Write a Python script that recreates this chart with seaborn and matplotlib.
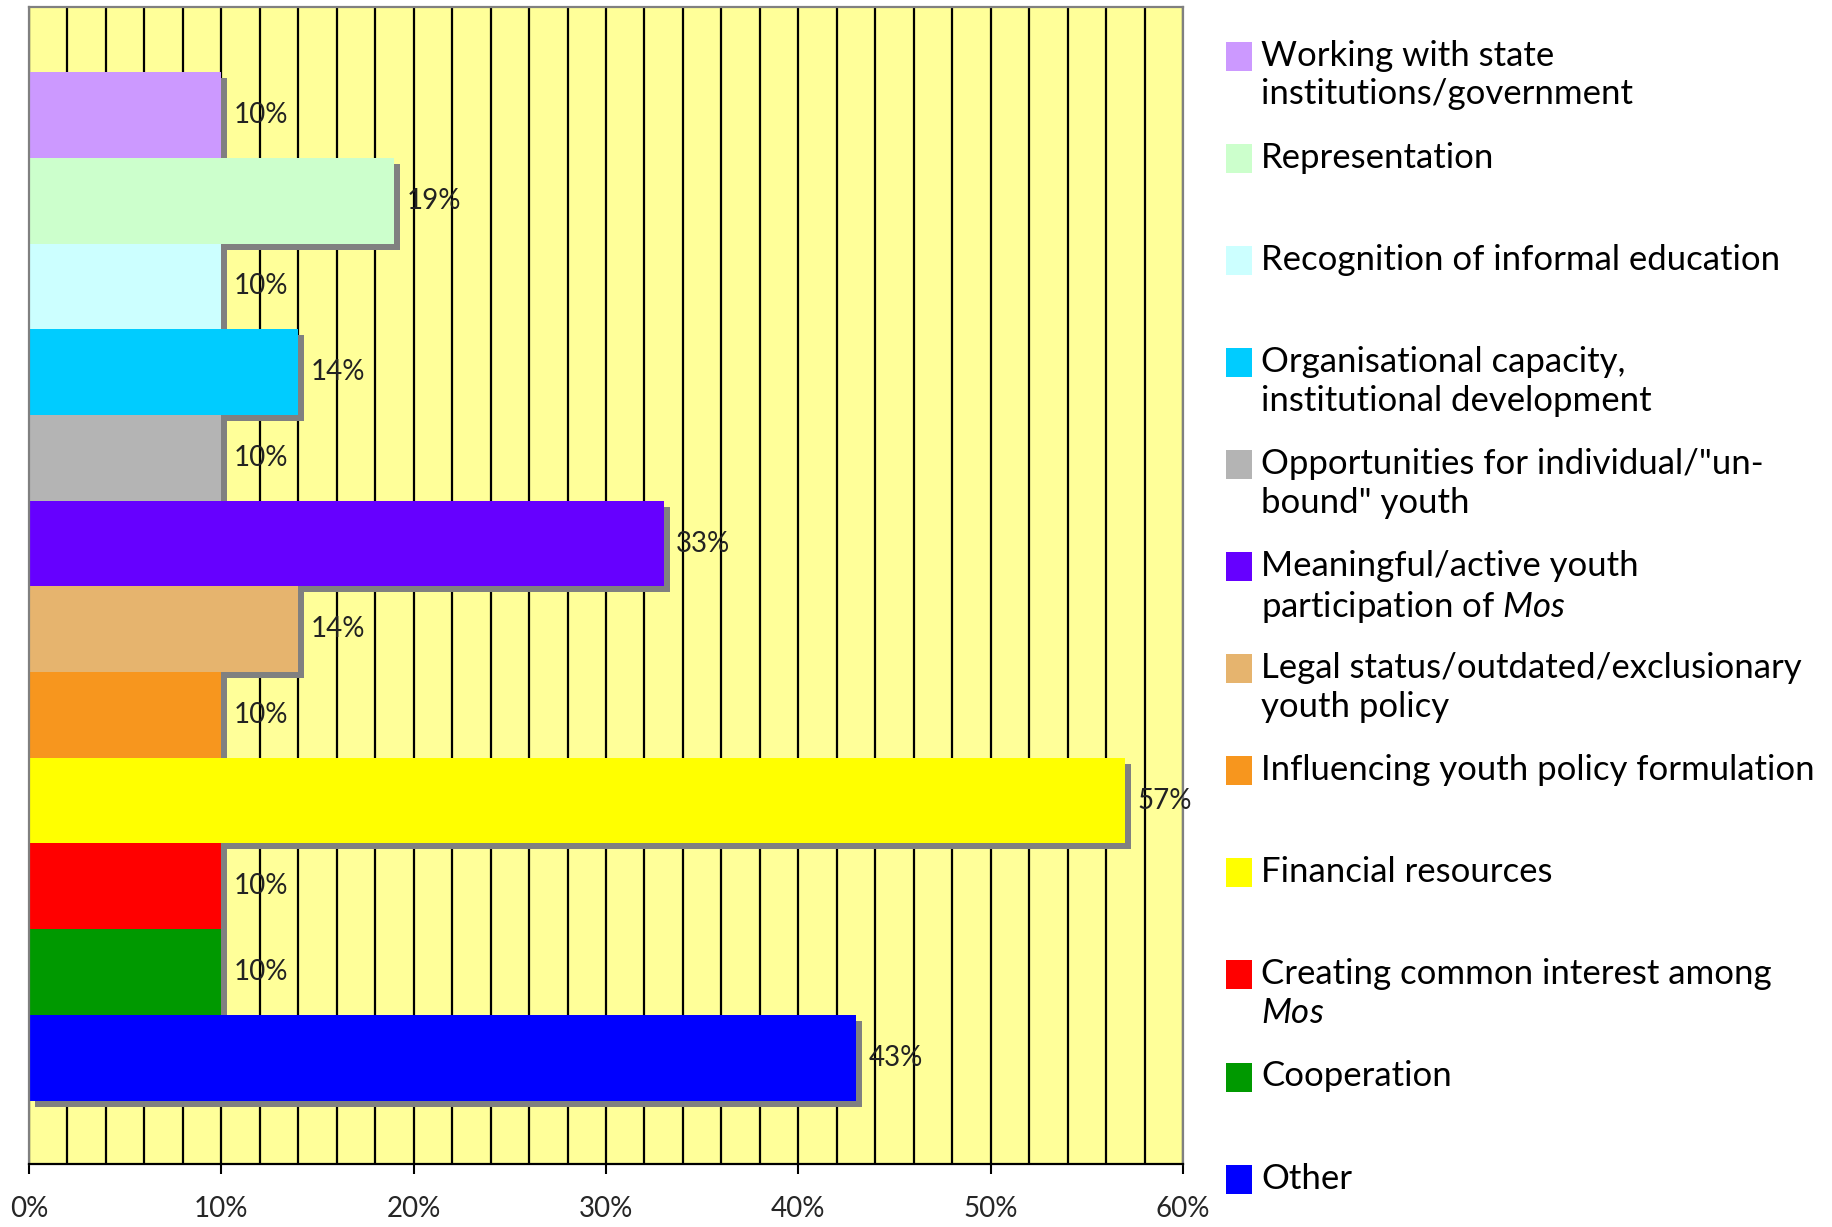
import numpy as np
import matplotlib
matplotlib.use('Agg')
import matplotlib.pyplot as plt
import matplotlib.patheffects as pe
from matplotlib.patches import Rectangle
import seaborn as sns

categories = ['Working with state institutions/government', 'Representation',
              'Recognition of informal education',
              'Organisational capacity, institutional development',
              'Opportunities for individual/"un-bound" youth',
              'Meaningful/active youth participation of Mos',
              'Legal status/outdated/exclusionary youth policy',
              'Influencing youth policy formulation', 'Financial resources',
              'Creating common interest among Mos', 'Cooperation', 'Other']
legend_text = ['Working with state\ninstitutions/government', 'Representation',
               'Recognition of informal education',
               'Organisational capacity,\ninstitutional development',
               'Opportunities for individual/"un-\nbound" youth',
               'Meaningful/active youth\nparticipation of $\\it{Mos}$',
               'Legal status/outdated/exclusionary\nyouth policy',
               'Influencing youth policy formulation', 'Financial resources',
               'Creating common interest among\n$\\it{Mos}$', 'Cooperation', 'Other']
values = [10, 19, 10, 14, 10, 33, 14, 10, 57, 10, 10, 43]
colors = ['#CC99FF', '#CCFFCC', '#CCFFFF', '#00CCFF', '#B4B4B4', '#6600FF',
          '#E6B46E', '#F7961E', '#FFFF00', '#FF0000', '#009900', '#0000FF']
x_ticks = [0, 10, 20, 30, 40, 50, 60]

sns.set_style('white')
plt.rcParams['font.family'] = ['Lato', 'DejaVu Sans']
plt.rcParams['mathtext.fontset'] = 'custom'
plt.rcParams['mathtext.rm'] = 'Lato'
plt.rcParams['mathtext.it'] = 'Lato:italic'

W, H = 1833, 1227
fig = plt.figure(figsize=(W / 100, H / 100), dpi=100)
ax = fig.add_axes([29 / W, 1 - 1164 / H, (1183 - 29) / W, (1164 - 7) / H])
ax.set_facecolor('#FFFF99')

sns.barplot(x=values, y=categories, hue=categories, palette=colors,
            orient='h', width=1.0, saturation=1, legend=False, ax=ax)

# grey drop shadow under every bar
shadow = [pe.SimplePatchShadow(offset=(4.3, -4.3), shadow_rgbFace='#808080', alpha=1.0),
          pe.Normal()]
for p in ax.patches:
    p.set_linewidth(0)
    p.set_path_effects(shadow)

for c in ax.containers:
    ax.bar_label(c, fmt='{:.0f}%', padding=9, fontsize=20, color='#222222')

ax.set_xlim(0, 60)
ax.set_ylim(12.24, -1.26)
ax.set_yticks([])
ax.set_xticks(x_ticks)
ax.set_xticklabels([f'{t}%' for t in x_ticks], fontsize=20)
ax.set_xticks(np.arange(0, 61, 2), minor=True)
ax.set_axisbelow(True)
ax.grid(True, axis='x', which='both', color='black', linewidth=1.6)
ax.tick_params(axis='x', which='major', direction='out', length=7, width=1.5,
               color='black', pad=16, bottom=True)
ax.tick_params(axis='x', which='minor', length=0)
ax.set_xlabel('')
ax.set_ylabel('')
for side in ['left', 'top', 'right']:
    ax.spines[side].set_color('#808080')
    ax.spines[side].set_linewidth(1.6)
ax.spines['bottom'].set_color('black')
ax.spines['bottom'].set_linewidth(1.6)

# legend drawn by hand, one slot per category
slot_top = 42
slot_step = 102.05
for i, (txt, col) in enumerate(zip(legend_text, colors)):
    top = slot_top + i * slot_step
    fig.patches.append(Rectangle((1226 / W, 1 - (top + 29) / H), 26 / W, 29 / H,
                                 facecolor=col, edgecolor='none',
                                 transform=fig.transFigure, figure=fig))
    fig.text(1261 / W, 1 - (top - 2) / H, txt, fontsize=25, va='top', ha='left',
             color='black', linespacing=1.25)

fig.savefig('out.png', dpi=100, facecolor='white')
